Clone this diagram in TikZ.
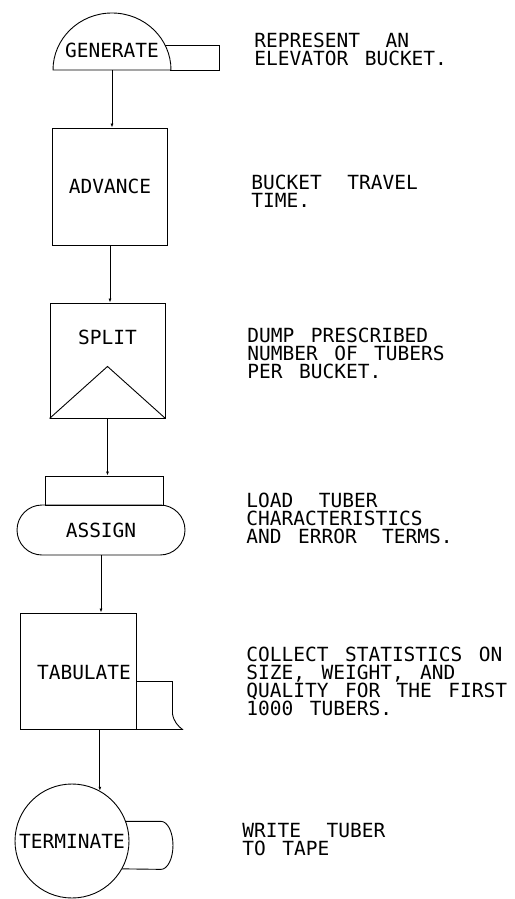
\documentclass[tikz,border=0pt]{standalone}
\usepackage{fontspec}
\newfontfamily\leroy[WordSpace=1.4]{DejaVu Sans Mono}
\usetikzlibrary{calc,shapes.misc,arrows.meta}

\tikzset{
	blk/.style={draw, minimum width=115pt, minimum height=117pt, inner sep=0pt},
	lbl/.style={font=\leroy\fontsize{19.5}{18}\selectfont, inner sep=0pt},
	note/.style={lbl, align=left, anchor=north west},
	flow/.style={-{Latex[length=4pt,width=3pt]}},
}
\newcommand{\wgap}{\hspace*{9pt}}

\begin{document}
\begin{tikzpicture}[x=1pt, y=1pt, line width=0.9pt]
	\useasboundingbox (0,0) rectangle (514,-899);
	% GENERATE
	\coordinate (gen) at (112,-70);
	\draw (gen) ++(-59,0) arc[start angle=180, end angle=0, x radius=59, y radius=57] -- cycle;
	\draw ($(gen)+(53,25)$) -- ($(gen)+(107,25)$) -- ($(gen)+(107,0)$) -- ($(gen)+(58,0)$);
	\node[lbl] (genlbl) at (112,-50) {GENERATE};
	% ADVANCE
	\node[blk, lbl] (adv) at (110,-186.5) {ADVANCE};
	% SPLIT
	\node[blk, minimum height=115pt] (split) at (107.5,-360.5) {};
	\node[lbl] (splitlbl) at ($(split.north)+(0,-35)$) {SPLIT};
	\draw (split.south west) -- ($(split.south)+(0,52)$) -- (split.south east);
	% ASSIGN
	\node[draw, minimum width=118pt, minimum height=29pt, inner sep=0pt] (asgtop) at (104,-490.5) {};
	\node[lbl, draw, rounded rectangle, minimum width=168pt, minimum height=50pt] (assign) at (101,-530) {ASSIGN};
	% TABULATE
	\node[blk, minimum width=116pt, minimum height=116pt] (tab) at (78,-671) {};
	\node[lbl] (tablbl) at (84,-673) {TABULATE};
	\begin{scope}[shift={(tab.south east)}]
		\draw (0,48) -- (36,48) -- (36,16) .. controls (37,8) and (42,3) .. (46,0) -- (0,0);
	\end{scope}
	% TERMINATE
	\node[lbl, draw, circle, minimum size=114pt] (term) at (72,-841) {TERMINATE};
	\draw (term.20.5) -- ++(35,0) arc[start angle=90, end angle=-90, x radius=12, y radius=24] -- (term.-29.4);
	% connectors
	\draw[flow] (gen) -- (gen |- adv.north);
	\draw[flow] (adv.south) -- (adv.south |- split.north);
	\draw[flow] (split.south) -- (split.south |- asgtop.north);
	\draw[flow] (assign.south) -- (assign.south |- tab.north);
	\draw[flow] (tab.south -| term.61) -- (term.61);
	% notes
	\node[note] (n1) at (254,-33) {REPRESENT \wgap AN\\ELEVATOR BUCKET.};
	\node[note] (n2) at (251,-175) {BUCKET \wgap TRAVEL\\TIME.};
	\node[note] (n3) at (247,-328) {DUMP PRESCRIBED\\NUMBER OF TUBERS\\PER BUCKET.};
	\node[note] (n4) at (246,-493) {LOAD \wgap TUBER\\CHARACTERISTICS\\AND ERROR \wgap TERMS.};
	\node[note] (n5) at (246,-647) {COLLECT STATISTICS ON\\SIZE, WEIGHT, AND\\QUALITY FOR THE FIRST\\1000 TUBERS.};
	\node[note] (n6) at (242,-823) {WRITE \wgap TUBER\\TO TAPE};
\end{tikzpicture}
\end{document}
